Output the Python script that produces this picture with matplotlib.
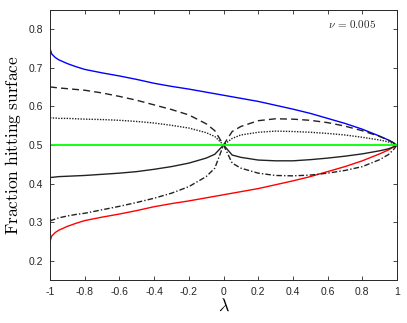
import matplotlib
matplotlib.use("Agg")
import matplotlib.pyplot as plt

plt.rcParams['mathtext.fontset'] = 'cm'

lam = [-1.0, -0.99, -0.97, -0.95, -0.9, -0.85, -0.8, -0.7, -0.6, -0.5, -0.4, -0.3, -0.2, -0.1, -0.05, 0.0,
       0.05, 0.1, 0.2, 0.3, 0.4, 0.5, 0.6, 0.7, 0.8, 0.9, 0.95, 0.98, 1.0]

blue = [0.750, 0.736, 0.727, 0.721, 0.711, 0.703, 0.696, 0.687, 0.679, 0.670, 0.660, 0.652, 0.645, 0.637, 0.633, 0.629,
        0.625, 0.621, 0.613, 0.603, 0.593, 0.582, 0.569, 0.556, 0.541, 0.523, 0.513, 0.505, 0.500]
red = [1 - b for b in blue]
green = [0.5] * len(lam)

dashed = [0.651, 0.650, 0.649, 0.648, 0.646, 0.644, 0.642, 0.635, 0.626, 0.616, 0.604, 0.592, 0.578, 0.555, 0.537, 0.500,
          0.535, 0.548, 0.563, 0.568, 0.567, 0.564, 0.558, 0.549, 0.537, 0.522, 0.513, 0.506, 0.500]
dotted = [0.571, 0.570, 0.570, 0.569, 0.569, 0.568, 0.567, 0.566, 0.564, 0.561, 0.557, 0.551, 0.544, 0.532, 0.522, 0.500,
          0.517, 0.526, 0.533, 0.536, 0.535, 0.533, 0.530, 0.526, 0.520, 0.513, 0.508, 0.504, 0.500]
solid = [0.416, 0.416, 0.417, 0.418, 0.419, 0.420, 0.421, 0.424, 0.427, 0.431, 0.437, 0.444, 0.453, 0.466, 0.476, 0.500,
         0.474, 0.468, 0.461, 0.459, 0.459, 0.462, 0.466, 0.471, 0.477, 0.485, 0.490, 0.495, 0.500]
dashdot = [0.303, 0.305, 0.308, 0.311, 0.316, 0.320, 0.323, 0.332, 0.341, 0.351, 0.362, 0.375, 0.392, 0.418, 0.440, 0.500,
           0.453, 0.440, 0.427, 0.421, 0.420, 0.422, 0.427, 0.434, 0.444, 0.462, 0.475, 0.488, 0.500]

xticks = [-1, -0.8, -0.6, -0.4, -0.2, 0, 0.2, 0.4, 0.6, 0.8, 1]
xticklabels = ['-1', '-0.8', '-0.6', '-0.4', '-0.2', '0', '0.2', '0.4', '0.6', '0.8', '1']
yticks = [0.2, 0.3, 0.4, 0.5, 0.6, 0.7, 0.8]
yticklabels = ['0.2', '0.3', '0.4', '0.5', '0.6', '0.7', '0.8']

fig = plt.figure(figsize=(4.07, 3.23), dpi=100)
ax = fig.add_axes([50/407, 43/323, 347/407, 270/323])

ax.plot(lam, blue, color='#0000ff', lw=1.0)
ax.plot(lam, red, color='#ff0000', lw=1.0)
ax.plot(lam, dashed, color='#222222', lw=1.0, linestyle=(0, (5, 3)))
ax.plot(lam, dotted, color='#222222', lw=1.0, linestyle=(0, (1, 1)))
ax.plot(lam, solid, color='#222222', lw=1.0)
ax.plot(lam, dashdot, color='#222222', lw=1.0, linestyle=(0, (4, 1.5, 1, 1.5)))
ax.plot(lam, green, color='#00ff00', lw=1.3)

ax.set_xlim(-1, 1)
ax.set_ylim(0.15, 0.85)
ax.set_xticks(xticks)
ax.set_xticklabels(xticklabels)
ax.set_yticks(yticks)
ax.set_yticklabels(yticklabels)
ax.tick_params(direction='in', length=3, width=0.6, top=True, right=True,
               labelsize=7.5, colors='#262626', pad=5)
for lab in ax.get_xticklabels() + ax.get_yticklabels():
    lab.set_family('Liberation Sans')
for s in ax.spines.values():
    s.set_color('#262626')
    s.set_linewidth(0.7)

ax.set_xlabel(r'$\lambda$', fontsize=13, labelpad=0)
ax.set_ylabel(r'$\mathrm{Fraction\ hitting\ surface}$', fontsize=12.5, labelpad=4)
ax.text(0.94, 0.95, r'$\nu\,=\,0.005$', transform=ax.transAxes, fontsize=8,
        ha='right', va='center', color='#262626')

fig.savefig('out.png', dpi=100)
